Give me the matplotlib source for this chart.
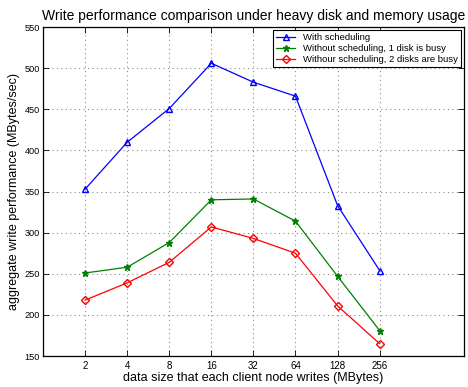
import matplotlib
matplotlib.use('Agg')
import matplotlib.pyplot as plt
import numpy as np

plt.rcParams['font.family'] = ['Liberation Sans', 'DejaVu Sans']

sizes = ['2', '4', '8', '16', '32', '64', '128', '256']
with_sched = [353, 410, 451, 506, 483, 466, 333, 254]
one_busy = [251, 258, 288, 340, 341, 314, 247, 181]
two_busy = [218, 239, 264, 307, 293, 275, 211, 165]

x = np.arange(1, len(sizes) + 1)

fig = plt.figure(figsize=(4.68, 3.87), dpi=100)
ax = fig.add_axes([0.092, 0.080, 0.899, 0.850])

ax.plot(x, with_sched, color='b', marker='^', mfc='none', ms=5, lw=0.9,
        label='With scheduling')
ax.plot(x, one_busy, color='g', marker='*', ms=4.5, lw=0.9,
        label='Without scheduling, 1 disk is busy')
ax.plot(x, two_busy, color='r', marker='D', mfc='none', ms=4.5, lw=0.9,
        label='Withour scheduling, 2 disks are busy')

ax.set_xlim(0, 10)
ax.set_ylim(150, 550)
ax.set_xticks(x)
ax.set_xticklabels(sizes)
ax.set_yticks(np.arange(150, 551, 50))
ax.tick_params(direction='in', top=True, right=True, labelsize=7, length=4, width=0.6)
ax.tick_params(axis='y', labelsize=6.6, pad=2.5)
ax.grid(True, linestyle=(0, (1, 3)), color='0.55', linewidth=0.8)
for s in ax.spines.values():
    s.set_linewidth(0.9)

ax.set_title('Write performance comparison under heavy disk and memory usage', fontsize=10, pad=5)
ax.set_xlabel('data size that each client node writes (MBytes)', fontsize=9, labelpad=1)
ax.set_ylabel('aggregate write performance (MBytes/sec)', fontsize=9)
ax.yaxis.set_label_coords(-0.055, 0.5)

leg = ax.legend(loc='upper right', fontsize=6.8, frameon=True, fancybox=False,
                edgecolor='k', framealpha=1, borderpad=0.35, labelspacing=0.2,
                handlelength=2.0, borderaxespad=0.3)
leg.get_frame().set_linewidth(0.8)

fig.savefig('out.png', dpi=100)
